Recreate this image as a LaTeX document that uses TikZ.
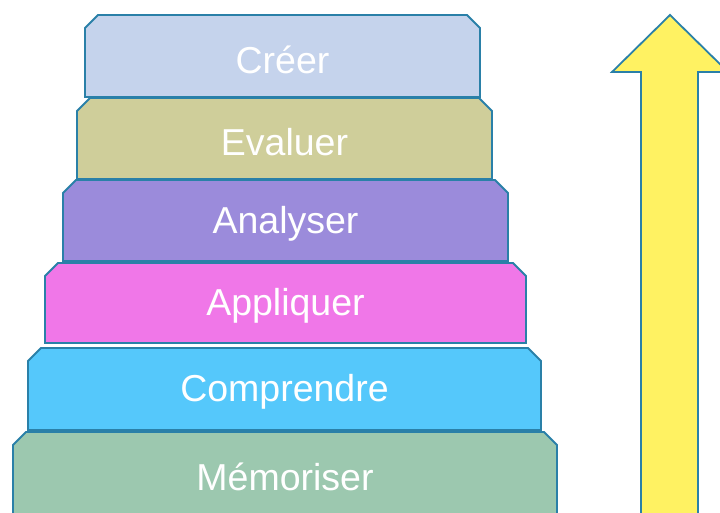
\documentclass[tikz,border=0pt]{standalone}
\usepackage{fontspec}
\setmainfont{Liberation Sans}
\begin{document}
\begin{tikzpicture}[x=1pt,y=-1pt,
  layerline/.style={draw=edgeblue, line width=1.8pt, line join=miter},
  lbl/.style={text=white, font=\fontsize{37.5}{42}\selectfont, inner sep=0pt}]
\definecolor{edgeblue}{HTML}{2A80A8}
\definecolor{c1}{HTML}{C5D3EC}
\definecolor{c2}{HTML}{CFCE9A}
\definecolor{c3}{HTML}{9B8BDB}
\definecolor{c4}{HTML}{F077E8}
\definecolor{c5}{HTML}{55C8FB}
\definecolor{c6}{HTML}{9CC8AF}
\definecolor{arrowy}{HTML}{FFF262}
\useasboundingbox (0,0) rectangle (720,513);
\clip (0,0) rectangle (720,513);
% layers: left, right, top, bottom
\newcommand{\layerpath}[5]{%
  \path[layerline, fill=#5] (#1,#4) -- (#1,#3+13) -- (#1+13,#3) -- (#2-13,#3) -- (#2,#3+13) -- (#2,#4) -- cycle;}
\layerpath{13}{557}{432}{525}{c6}
\layerpath{28}{541}{348}{430}{c5}
\layerpath{45}{526}{263}{343}{c4}
\layerpath{63}{508}{180}{261}{c3}
\layerpath{77}{492}{98}{179}{c2}
\layerpath{85}{480}{15}{97}{c1}
\node[lbl] (creer) at (282.5,60) {Créer};
\node[lbl] (evaluer) at (284.5,142) {Evaluer};
\node[lbl] (analyser) at (285.5,224) {Analyser};
\node[lbl] (appliquer) at (285.5,306) {Appliquer};
\node[lbl] (comprendre) at (284.5,392) {Comprendre};
\node[lbl] (memoriser) at (285,477) {Mémoriser};
% arrow
\path[layerline, fill=arrowy] (670,15) -- (728,72) -- (698,72) -- (698,525) -- (641,525) -- (641,72) -- (612,72) -- cycle;
\end{tikzpicture}
\end{document}
